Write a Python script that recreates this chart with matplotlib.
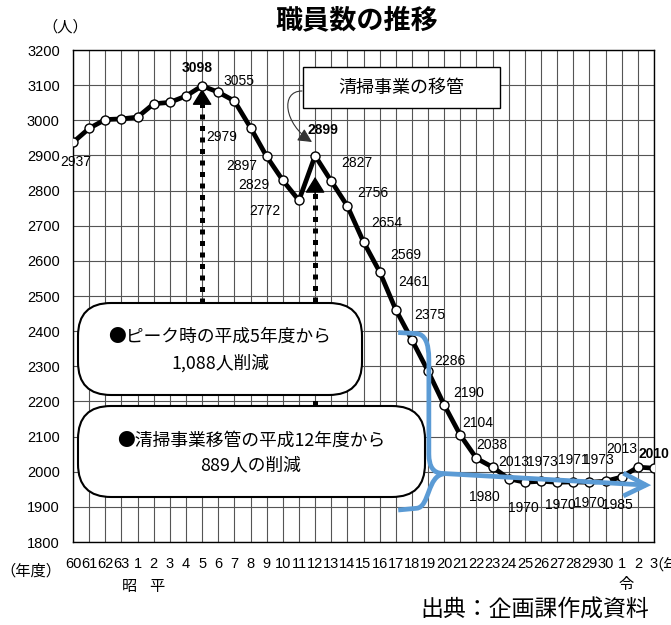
import matplotlib
matplotlib.use('Agg')
import matplotlib.pyplot as plt
from matplotlib.patches import FancyBboxPatch, Rectangle, FancyArrowPatch, PathPatch
from matplotlib.path import Path

plt.rcParams['font.family'] = ['Liberation Sans', 'Noto Sans CJK JP', 'DejaVu Sans']
JP = ['Noto Sans CJK JP', 'DejaVu Sans']
NARROW = ['Liberation Sans Narrow', 'Liberation Sans']

# fiscal years: Showa 60-63, Heisei 1-30, Reiwa 1-3
years = ['60', '61', '62', '63',
         '1', '2', '3', '4', '5', '6', '7', '8', '9', '10',
         '11', '12', '13', '14', '15', '16', '17', '18', '19', '20',
         '21', '22', '23', '24', '25', '26', '27', '28', '29', '30',
         '1', '2', '3']
staff = [2937, 2977, 3002, 3004,
         3009, 3047, 3051, 3069, 3098, 3080, 3055, 2979, 2897, 2829,
         2772, 2899, 2827, 2756, 2654, 2569, 2461, 2375, 2286, 2190,
         2104, 2038, 2013, 1980, 1970, 1973, 1970, 1971, 1970, 1973,
         1985, 2013, 2010]

# points that carry a value label and where the label sits (pixels, + is down)
label_offsets = {0: (3, 20), 8: (-5, -18), 10: (5, -20), 11: (-29, 9), 12: (-25, 10),
                 13: (-29, 5), 14: (-34, 11), 15: (8, -26), 16: (26, -18), 17: (25, -13),
                 18: (23, -19), 19: (26, -17), 20: (18, -28), 21: (18, -25), 22: (22, -10),
                 23: (24, -12), 24: (17, -12), 25: (15, -13), 26: (21, -5), 27: (-24, 18),
                 28: (-2, 26), 29: (1, -19), 30: (3, 23), 31: (0, -22), 32: (0, 21),
                 33: (-7, -21), 34: (-4, 28), 35: (-16, -18), 36: (0, -14)}
bold_labels = [8, 15, 36]

W, H = 671, 625
fig = plt.figure(figsize=(W / 100, H / 100), dpi=100)
ax = fig.add_axes([73 / W, 1 - 542 / H, 581 / W, 492 / H])

x = list(range(len(years)))
ax.plot(x, staff, color='black', lw=3.4, zorder=3, solid_joinstyle='round')
ax.plot(x, staff, 'o', ms=6.5, mfc='white', mec='black', mew=1.0, zorder=4)

for i, (dx, dy) in label_offsets.items():
    ax.annotate(str(staff[i]), (i, staff[i]), xytext=(dx, -dy), textcoords='offset pixels',
                ha='center', va='center', fontsize=10, family=NARROW,
                fontweight='bold' if i in bold_labels else 'normal', zorder=6)

ax.set_xlim(0, len(years) - 1)
ax.set_ylim(1800, 3200)
ax.set_xticks(x)
ax.set_xticklabels(years)
ax.set_yticks(range(1800, 3201, 100))
ax.tick_params(length=0, labelsize=10.5)
ax.tick_params(axis='x', pad=10.5)
ax.tick_params(axis='y', pad=9.5)
ax.grid(True, color='#555555', lw=0.8)
ax.set_axisbelow(True)
for s in ax.spines.values():
    s.set_color('black')
    s.set_linewidth(1.0)

# dotted arrows up to the peak (H5) and the transfer year (H12)
for xi, y0, y1, tip in [(8, 2350, 3045, 3089), (15, 1960, 2795, 2839)]:
    ax.plot([xi, xi], [y0, y1], color='black', lw=3.6, linestyle=(0, (1.0, 1.3)),
            dash_capstyle='butt', zorder=2)
    ax.annotate('', xy=(xi, tip), xytext=(xi, y1 - 5),
                arrowprops=dict(arrowstyle='-|>,head_length=0.5,head_width=0.31',
                                mutation_scale=20, color='black', lw=1,
                                shrinkA=0, shrinkB=0), zorder=2)

# blue merging arrow
blue = '#5B9BD5'
top = Path([(20.15, 2396), (21.3, 2393), (22.05, 2390), (22.05, 2320), (22.05, 2050),
            (22.05, 1996), (22.9, 1995), (35.5, 1962)],
           [Path.MOVETO, Path.LINETO, Path.CURVE3, Path.CURVE3, Path.LINETO,
            Path.CURVE3, Path.CURVE3, Path.LINETO])
bottom = Path([(20.15, 1891), (21.3, 1896), (22.1, 1900), (21.95, 1990), (23.0, 1994)],
              [Path.MOVETO, Path.LINETO, Path.CURVE4, Path.CURVE4, Path.CURVE4])
head = Path([(34.1, 1996), (35.5, 1962), (34.1, 1931)],
            [Path.MOVETO, Path.LINETO, Path.LINETO])
for p in (top, bottom, head):
    ax.add_patch(PathPatch(p, fill=False, edgecolor=blue, lw=3.4, capstyle='butt',
                           joinstyle='miter', zorder=5))

# overlay in pixel units for the boxes and texts
ov = fig.add_axes([0, 0, 1, 1], zorder=5)
ov.set_xlim(0, W)
ov.set_ylim(H, 0)
ov.axis('off')

ov.add_patch(FancyBboxPatch((78, 303), 284, 92, boxstyle='round,pad=0,rounding_size=33',
                            fc='white', ec='black', lw=1.5))
ov.text(220, 337, '●ピーク時の平成5年度から', ha='center', va='center', fontsize=12.8, family=JP)
ov.text(220, 363, '1,088人削減', ha='center', va='center', fontsize=12.8, family=JP)

ov.add_patch(FancyBboxPatch((78, 406), 347, 91, boxstyle='round,pad=0,rounding_size=33',
                            fc='white', ec='black', lw=1.5))
ov.text(251, 441, '●清掃事業移管の平成12年度から', ha='center', va='center', fontsize=12.8, family=JP)
ov.text(251, 465, '889人の削減', ha='center', va='center', fontsize=12.8, family=JP)

ov.add_patch(Rectangle((303, 67), 197, 41, fc='white', ec='black', lw=1.0))
ov.text(401, 88, '清掃事業の移管', ha='center', va='center', fontsize=13, family=JP)
callout = Path([(302, 91), (280, 91), (284, 124), (312, 142)],
               [Path.MOVETO, Path.CURVE4, Path.CURVE4, Path.CURVE4])
ov.add_patch(FancyArrowPatch(path=callout, arrowstyle='-|>,head_length=0.7,head_width=0.35',
                             mutation_scale=12, color='#333333', lw=0.8))

ov.text(357, 20, '職員数の推移', ha='center', va='center', fontsize=19.5,
        fontweight='bold', family=JP)
ov.text(65, 27, '（人）', ha='center', va='center', fontsize=11, family=JP)
ov.text(31, 571, '（年度）', ha='center', va='center', fontsize=11, family=JP)
ov.text(648, 565, '（年度）', ha='left', va='center', fontsize=11, family=JP)
ov.text(129, 587, '昭', ha='center', va='center', fontsize=11, family=JP)
ov.text(157, 587, '平', ha='center', va='center', fontsize=11, family=JP)
ov.text(626, 584, '令', ha='center', va='center', fontsize=11, family=JP)
ov.text(535, 610, '出典：企画課作成資料', ha='center', va='center', fontsize=16.5, family=JP)

fig.savefig('out.png', dpi=100)
